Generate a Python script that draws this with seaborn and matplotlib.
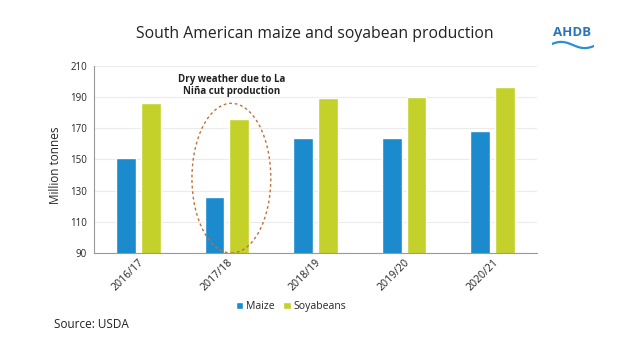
import numpy as np
import pandas as pd
import matplotlib.pyplot as plt
import seaborn as sns
from matplotlib.patches import Ellipse, Patch

# data
seasons = ['2016/17', '2017/18', '2018/19', '2019/20', '2020/21']
maize = [151, 125.7, 163.6, 163.8, 168.1]
soyabeans = [186.4, 175.8, 189.7, 189.9, 196.7]
series = ['Maize', 'Soyabeans']
colors = ['#1b8bcd', '#c4d12b']

df = pd.DataFrame({
    'season': seasons * 2,
    'crop': ['Maize'] * len(seasons) + ['Soyabeans'] * len(seasons),
    'value': maize + soyabeans,
})

sns.set_style('white')
plt.rcParams['font.family'] = ['Open Sans', 'DejaVu Sans']

fig = plt.figure(figsize=(6.4, 3.6), dpi=100)
ax = fig.add_axes([0.147, 0.297, 0.692, 0.52])

sns.barplot(data=df, x='season', y='value', hue='crop', palette=colors,
            width=0.56, gap=0.2, saturation=1, ax=ax, legend=False)

ax.set_ylim(90, 210)
ax.set_yticks(range(90, 211, 20))
ax.set_xlim(-0.5, len(seasons) - 0.5)
ax.yaxis.grid(True, color='#ebebeb', linewidth=0.8)
ax.set_axisbelow(True)
for s in ['top', 'right']:
    ax.spines[s].set_visible(False)
for s in ['left', 'bottom']:
    ax.spines[s].set_color('#999999')
    ax.spines[s].set_linewidth(0.8)

# ticks between categories
ax.set_xticks([i - 0.5 for i in range(len(seasons) + 1)], minor=True)
ax.tick_params(axis='x', which='minor', length=3, color='#999999', width=0.8)
ax.tick_params(axis='x', which='major', length=0, pad=3)
ax.tick_params(axis='y', length=3, color='#999999', width=0.8, labelsize=7, pad=2)
ax.set_xticks(range(len(seasons)))
ax.set_xticklabels(seasons, rotation=45, ha='right', rotation_mode='anchor',
                   fontsize=7.6, color='#222222')
ax.set_xlabel('')
ax.set_ylabel('Million tonnes', fontsize=8.5)
ax.yaxis.set_label_coords(-0.072, 0.47)

# annotation
ax.add_patch(Ellipse((1.05, 138), 0.89, 96, fill=False, edgecolor='#c0703a',
                     linestyle=(0, (2, 2)), linewidth=1.0, clip_on=False))
ax.text(1.05, 197.5, 'Dry weather due to La\nNiña cut production', ha='center',
        va='center', fontsize=7, fontweight='bold', color='#222222',
        linespacing=1.2)

fig.text(0.492, 0.905, 'South American maize and soyabean production',
         ha='center', va='center', fontsize=11.3, color='#222222')

# logo
fig.text(0.894, 0.91, 'AHDB', ha='center', va='center', fontsize=9.5,
         fontweight='bold', color='#2a74bd')
lax = fig.add_axes([0.862, 0.86, 0.066, 0.03])
wx = np.linspace(0, 1, 50)
lax.plot(wx, 0.5 + 0.4 * np.sin(wx * 2 * np.pi * 0.9 + 0.3), color='#2a8fd0',
         linewidth=1.6)
lax.set_xlim(0, 1)
lax.set_ylim(-0.2, 1.2)
lax.axis('off')

handles = [Patch(facecolor=c, label=l) for c, l in zip(colors, series)]
fig.legend(handles=handles, loc='center', bbox_to_anchor=(0.455, 0.148), ncol=2,
           frameon=False, fontsize=7.5, handlelength=0.7, handleheight=0.7,
           handletextpad=0.3, columnspacing=0.8)

fig.text(0.085, 0.098, 'Source: USDA', ha='left', va='center', fontsize=8.5,
         color='#222222')

plt.savefig('out.png', dpi=100)
